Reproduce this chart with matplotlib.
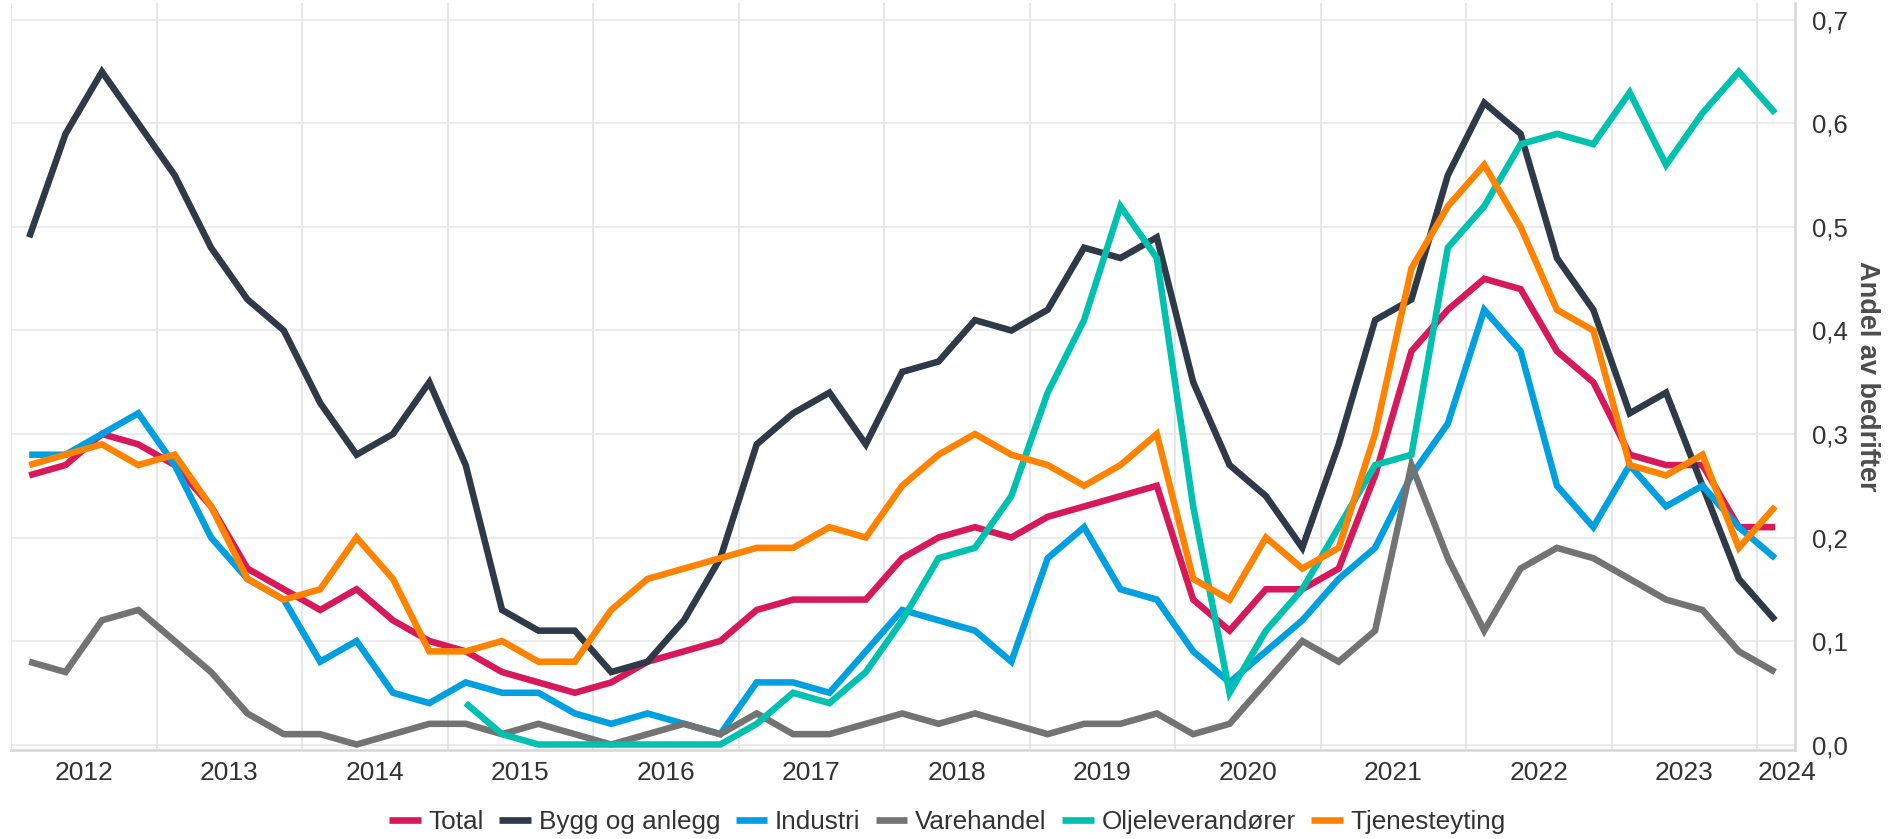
import matplotlib
matplotlib.use("Agg")
import matplotlib.pyplot as plt
import numpy as np

# ---------------- data ----------------
start_year, start_q, n_points = 2011, 3, 49
quarters = [(start_year + (start_q - 1 + k) // 4, (start_q - 1 + k) % 4 + 1) for k in range(n_points)]

total = [0.26, 0.27, 0.30, 0.29, 0.27, 0.23, 0.17, 0.15,
         0.13, 0.15, 0.12, 0.10, 0.09, 0.07, 0.06, 0.05,
         0.06, 0.08, 0.09, 0.10, 0.13, 0.14, 0.14, 0.14,
         0.18, 0.20, 0.21, 0.20, 0.22, 0.23, 0.24, 0.25,
         0.14, 0.11, 0.15, 0.15, 0.17, 0.26, 0.38, 0.42,
         0.45, 0.44, 0.38, 0.35, 0.28, 0.27, 0.27, 0.21,
         0.21]
bygg = [0.49, 0.59, 0.65, 0.60, 0.55, 0.48, 0.43, 0.40,
        0.33, 0.28, 0.30, 0.35, 0.27, 0.13, 0.11, 0.11,
        0.07, 0.08, 0.12, 0.18, 0.29, 0.32, 0.34, 0.29,
        0.36, 0.37, 0.41, 0.40, 0.42, 0.48, 0.47, 0.49,
        0.35, 0.27, 0.24, 0.19, 0.29, 0.41, 0.43, 0.55,
        0.62, 0.59, 0.47, 0.42, 0.32, 0.34, 0.25, 0.16,
        0.12]
industri = [0.28, 0.28, 0.30, 0.32, 0.27, 0.20, 0.16, 0.14,
            0.08, 0.10, 0.05, 0.04, 0.06, 0.05, 0.05, 0.03,
            0.02, 0.03, 0.02, 0.01, 0.06, 0.06, 0.05, 0.09,
            0.13, 0.12, 0.11, 0.08, 0.18, 0.21, 0.15, 0.14,
            0.09, 0.06, 0.09, 0.12, 0.16, 0.19, 0.26, 0.31,
            0.42, 0.38, 0.25, 0.21, 0.27, 0.23, 0.25, 0.21,
            0.18]
varehandel = [0.08, 0.07, 0.12, 0.13, 0.10, 0.07, 0.03, 0.01,
              0.01, 0.00, 0.01, 0.02, 0.02, 0.01, 0.02, 0.01,
              0.00, 0.01, 0.02, 0.01, 0.03, 0.01, 0.01, 0.02,
              0.03, 0.02, 0.03, 0.02, 0.01, 0.02, 0.02, 0.03,
              0.01, 0.02, 0.06, 0.10, 0.08, 0.11, 0.27, 0.18,
              0.11, 0.17, 0.19, 0.18, 0.16, 0.14, 0.13, 0.09,
              0.07]
olje = [None] * 12 + [0.04, 0.01, 0.00, 0.00,
        0.00, 0.00, 0.00, 0.00, 0.02, 0.05, 0.04, 0.07,
        0.12, 0.18, 0.19, 0.24, 0.34, 0.41, 0.52, 0.47,
        0.23, 0.05, 0.11, 0.15, 0.21, 0.27, 0.28, 0.48,
        0.52, 0.58, 0.59, 0.58, 0.63, 0.56, 0.61, 0.65,
        0.61]
tjeneste = [0.27, 0.28, 0.29, 0.27, 0.28, 0.23, 0.16, 0.14,
            0.15, 0.20, 0.16, 0.09, 0.09, 0.10, 0.08, 0.08,
            0.13, 0.16, 0.17, 0.18, 0.19, 0.19, 0.21, 0.20,
            0.25, 0.28, 0.30, 0.28, 0.27, 0.25, 0.27, 0.30,
            0.16, 0.14, 0.20, 0.17, 0.19, 0.30, 0.46, 0.52,
            0.56, 0.50, 0.42, 0.40, 0.27, 0.26, 0.28, 0.19,
            0.23]

series_names = ["Total", "Bygg og anlegg", "Industri", "Varehandel", "Oljeleverandører", "Tjenesteyting"]
series_values = [total, bygg, industri, varehandel, olje, tjeneste]
series_colors = ["#D7195B", "#2E3A47", "#00A0E0", "#737373", "#00C1B0", "#FF8300"]

year_labels = [str(y) for y in range(2012, 2025)]
y_ticks = [0.0, 0.1, 0.2, 0.3, 0.4, 0.5, 0.6, 0.7]
y_title = "Andel av bedrifter"

# ---------------- plot ----------------
plt.rcParams["font.family"] = ["Liberation Sans", "DejaVu Sans"]
W, H = 1895, 839
fig = plt.figure(figsize=(W / 100, H / 100), dpi=100)
ax = fig.add_axes([11 / W, 1 - 750 / H, (1795 - 11) / W, (750 - 3) / H])

# x position: middle of each quarter
x = np.array([y + (q - 1) / 4 + 0.125 for y, q in quarters])

for name, vals, col in zip(series_names, series_values, series_colors):
    v = np.array([np.nan if a is None else a for a in vals], dtype=float)
    ax.plot(x, v, color=col, lw=4.7, label=name, solid_joinstyle="miter",
            solid_capstyle="butt", clip_on=False)

ax.set_xlim(2011.5, 2023.761)
ax.set_ylim(-0.0053, 0.7164)

# vertical gridlines at mid-year
ax.set_xticks(np.arange(2011.5, 2023.6, 1.0), minor=True)
ax.grid(True, which="minor", axis="x", color="#e0e0e0", lw=1.1)
ax.tick_params(axis="x", which="minor", length=0)
# year labels at year start (last label pulled inside like the original)
xt = [float(y) for y in range(2012, 2024)] + [2023.706]
ax.set_xticks(xt)
ax.set_xticklabels(year_labels, fontsize=19, color="#333333")
ax.tick_params(axis="x", which="major", length=0, pad=8)

ax.yaxis.tick_right()
ax.set_yticks(y_ticks)
ax.set_yticklabels([f"{t:.1f}".replace(".", ",") for t in y_ticks], fontsize=18.5, color="#333333")
ax.tick_params(axis="y", length=0, pad=12)
for lab in ax.get_yticklabels():
    lab.set_horizontalalignment("left")
ax.grid(True, which="major", axis="y", color="#e6e6e6", lw=1.1)
ax.set_axisbelow(True)

ax.yaxis.set_label_position("right")
ax.set_ylabel(y_title, rotation=270, fontsize=19.5, fontweight="bold", color="#4d4d4d",
              va="center", ha="center")
ax.yaxis.set_label_coords(1.0404, 0.5)

for s in ["top", "left"]:
    ax.spines[s].set_visible(False)
ax.spines["bottom"].set_color("#d6d6d6")
ax.spines["bottom"].set_linewidth(1.8)
ax.spines["right"].set_color("#d6d6d6")
ax.spines["right"].set_linewidth(1.8)

leg = fig.legend(loc="center", bbox_to_anchor=(0.5, 1 - 822 / H), ncol=6, frameon=False,
                 fontsize=18.8, handlelength=1.2, handletextpad=0.3, columnspacing=0.6)
for t in leg.get_texts():
    t.set_color("#333333")
for h in leg.get_lines():
    h.set_linewidth(4.8)

fig.savefig("out.png", dpi=100)
